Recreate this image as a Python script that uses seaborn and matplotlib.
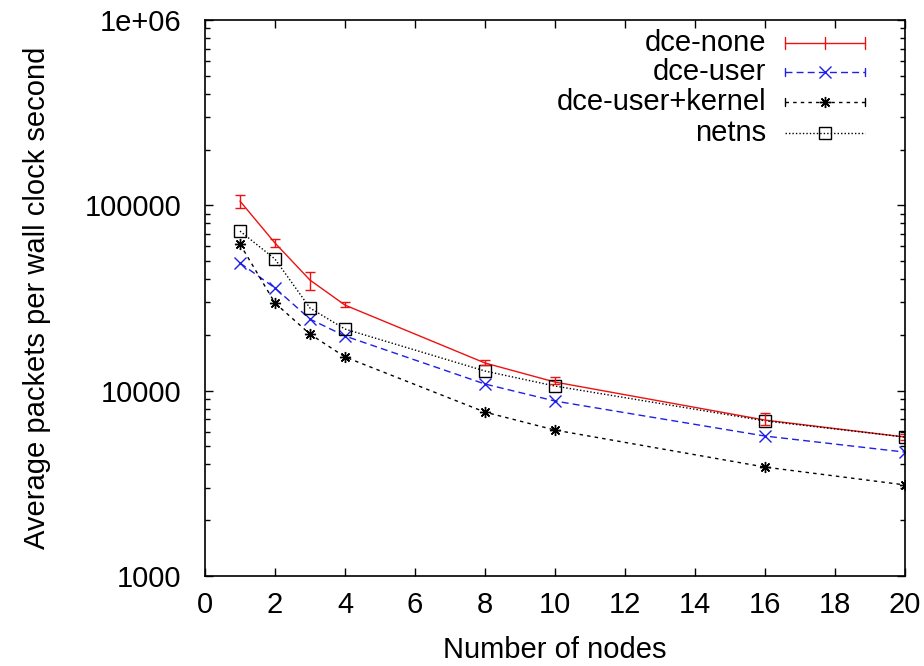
import numpy as np
import pandas as pd
import matplotlib
matplotlib.use("Agg")
import matplotlib.pyplot as plt
from matplotlib.lines import Line2D
import seaborn as sns

nodes = [1, 2, 3, 4, 8, 10, 16, 20]
dce_none = [105400, 62600, 39500, 28950, 14100, 11130, 6940, 5620]
dce_none_lo = [96700, 59600, 34900, 28300, 13750, 10860, 6520, 5410]
dce_none_hi = [113700, 65800, 43700, 30100, 14620, 11840, 7570, 5830]
dce_user = [48850, 35800, 24330, 19720, 10860, 8790, 5690, 4660]
dce_kernel = [61800, 29700, 20200, 15200, 7660, 6130, 3870, 3100]
netns = [72600, 51300, 27900, 21500, 12760, 10590, 6870, 5620]

series_names = ["dce-none", "dce-user", "dce-user+kernel", "netns"]
yticks = [1000, 10000, 100000, 1000000]
ytick_labels = ["1000", "10000", "100000", "1e+06"]
xticks = [0, 2, 4, 6, 8, 10, 12, 14, 16, 18, 20]

sns.set_style("ticks")
plt.rcParams["font.family"] = ["Liberation Sans", "DejaVu Sans"]
plt.rcParams["xtick.direction"] = "in"
plt.rcParams["ytick.direction"] = "in"
plt.rcParams["text.color"] = "black"
plt.rcParams["axes.labelcolor"] = "black"
plt.rcParams["xtick.color"] = "black"
plt.rcParams["ytick.color"] = "black"
plt.rcParams["axes.edgecolor"] = "black"

FS = 21

df = pd.concat([
    pd.DataFrame({"nodes": nodes, "value": v, "series": n})
    for n, v in zip(series_names, [dce_none, dce_user, dce_kernel, netns])
])

colors = {"dce-none": "#ee1111", "dce-user": "#1f1fe8",
          "dce-user+kernel": "black", "netns": "black"}
markers = {"dce-none": "None", "dce-user": "x",
           "dce-user+kernel": (8, 2, 0), "netns": "s"}
dashes = {"dce-none": None, "dce-user": (5, 3),
          "dce-user+kernel": (2.5, 3), "netns": (1, 1.5)}

fig = plt.figure(figsize=(9.24, 6.66), dpi=100)
ax = fig.add_axes([205 / 924, 1 - 576 / 666, 700 / 924, 556 / 666])

for name in series_names:
    sub = df[df["series"] == name]
    ls = "-" if dashes[name] is None else (0, dashes[name])
    mk = markers[name]
    sns.lineplot(data=sub, x="nodes", y="value", ax=ax, color=colors[name],
                 linewidth=1.0, linestyle=ls, marker=mk, markersize=8,
                 markeredgewidth=1.0,
                 markerfacecolor="none" if mk == "s" else colors[name],
                 markeredgecolor=colors[name], legend=False)

err_lo = np.array(dce_none) - np.array(dce_none_lo)
err_hi = np.array(dce_none_hi) - np.array(dce_none)
ax.errorbar(nodes, dce_none, yerr=[err_lo, err_hi], fmt="none",
            ecolor=colors["dce-none"], elinewidth=1.0, capsize=3.5, capthick=1.0)

ax.set_yscale("log")
ax.set_xlim(0, 20)
ax.set_ylim(1000, 1e6)
ax.set_xticks(xticks)
ax.set_xticklabels([str(t) for t in xticks])
ax.set_yticks(yticks)
ax.set_yticklabels(ytick_labels)
ax.tick_params(which="major", length=6, width=1, labelsize=FS, top=True, right=True)
ax.tick_params(axis="y", which="major", pad=17)
ax.tick_params(axis="x", which="major", pad=11)
ax.tick_params(which="minor", length=3.5, width=1, top=True, right=True)
for s in ax.spines.values():
    s.set_linewidth(1.2)
    s.set_visible(True)

ax.set_xlabel("Number of nodes", fontsize=FS, labelpad=12)
ax.set_ylabel("Average packets per wall clock second", fontsize=FS, labelpad=24)

# gnuplot-style legend: right-aligned text, sample on the right
rows_py = [43, 72, 102, 133]
x_text = (766 - 205) / 700
x0, x1 = (785 - 205) / 700, (865 - 205) / 700
for name, py in zip(series_names, rows_py):
    ya = (576 - py) / 556
    ax.text(x_text, ya, name, transform=ax.transAxes, ha="right", va="center",
            fontsize=FS)
    ln = Line2D([x0, x1], [ya, ya], transform=ax.transAxes,
                color=colors[name], linewidth=1.0)
    if dashes[name] is not None:
        ln.set_dashes(dashes[name])
    ax.add_line(ln)
    mk = markers[name]
    if name == "dce-none":
        for xx in [x0, (x0 + x1) / 2, x1]:
            ax.add_line(Line2D([xx, xx], [ya - 0.01, ya + 0.01], transform=ax.transAxes,
                               color=colors[name], linewidth=1.0))
    else:
        if name != "netns":
            for xx in [x0, x1]:
                ax.add_line(Line2D([xx, xx], [ya - 0.008, ya + 0.008], transform=ax.transAxes,
                                   color=colors[name], linewidth=1.0))
        ax.add_line(Line2D([(x0 + x1) / 2], [ya], transform=ax.transAxes,
                           marker=mk, markersize=8, color=colors[name],
                           markerfacecolor="none" if mk == "s" else colors[name],
                           markeredgewidth=1.0, linestyle="None"))

fig.savefig("out.png", dpi=100)
